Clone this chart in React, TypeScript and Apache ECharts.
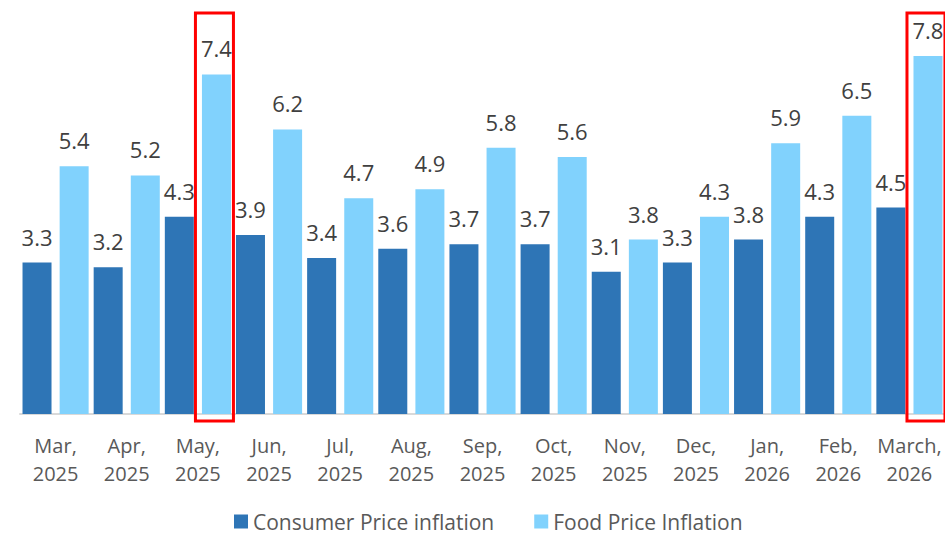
import React, { useEffect, useRef } from "react";
import * as echarts from "echarts";

const categories = [
  "Mar,\n2025", "Apr,\n2025", "May,\n2025", "Jun,\n2025", "Jul,\n2025", "Aug,\n2025",
  "Sep,\n2025", "Oct,\n2025", "Nov,\n2025", "Dec,\n2025", "Jan,\n2026", "Feb,\n2026", "March,\n2026",
];
const cpiValues = [3.3, 3.2, 4.3, 3.9, 3.4, 3.6, 3.7, 3.7, 3.1, 3.3, 3.8, 4.3, 4.5];
const foodValues = [5.4, 5.2, 7.4, 6.2, 4.7, 4.9, 5.8, 5.6, 3.8, 4.3, 5.9, 6.5, 7.8];
const highlighted = [2, 12];

const FONT = "'Open Sans', 'Noto Sans', sans-serif";

export default function App() {
  const ref = useRef<HTMLDivElement>(null);
  useEffect(() => {
    if (!ref.current) return;
    const chart = echarts.init(ref.current, null, { renderer: "svg" });
    const barWidth = 29;
    const labelStyle = {
      show: true,
      position: "top",
      distance: 15,
      color: "#404040",
      fontSize: 22,
      fontFamily: FONT,
    };
    chart.setOption({
      animation: false,
      textStyle: { fontFamily: FONT },
      grid: { left: 20, right: 0, top: 1, bottom: 123, containLabel: false },
      xAxis: {
        type: "category",
        data: categories,
        axisLine: { lineStyle: { color: "#d9d9d9", width: 2 } },
        axisTick: { show: false },
        axisLabel: {
          color: "#595959",
          fontSize: 20,
          lineHeight: 28,
          margin: 17,
          interval: 0,
          fontFamily: FONT,
        },
      },
      yAxis: { type: "value", min: 0, max: 9, show: false, splitLine: { show: false } },
      legend: {
        bottom: 0,
        left: 229,
        itemWidth: 14,
        itemHeight: 14,
        itemGap: 40,
        icon: "rect",
        textStyle: { color: "#595959", fontSize: 21, lineHeight: 20, fontFamily: FONT },
        data: ["Consumer Price inflation", "Food Price Inflation"],
      },
      series: [
        {
          name: "Consumer Price inflation",
          type: "bar",
          data: cpiValues,
          barWidth,
          barGap: "28%",
          itemStyle: { color: "#2e75b6" },
          label: labelStyle,
        },
        {
          name: "Food Price Inflation",
          type: "bar",
          data: foodValues,
          barWidth,
          itemStyle: { color: "#81d2fd" },
          label: labelStyle,
        },
      ],
    });
    const offset = (barWidth + barWidth * 0.28) / 2;
    const graphics = highlighted.map((i) => {
      const [cx, baseY] = chart.convertToPixel({ xAxisIndex: 0, yAxisIndex: 0 }, [i, 0]) as number[];
      const topY = chart.convertToPixel({ yAxisIndex: 0 }, 8.74) as number;
      const x = cx + offset - 21;
      return {
        type: "rect",
        shape: { x, y: topY, width: 38, height: baseY + 7 - topY },
        style: { fill: "none", stroke: "#ff0000", lineWidth: 3 },
        z: 100,
      };
    });
    chart.setOption({ graphic: graphics });
    return () => chart.dispose();
  }, []);
  return (
    <div
      ref={ref}
      style={{ position: "absolute", left: 0, top: 0, width: 945, height: 537, background: "#fff" }}
    />
  );
}
